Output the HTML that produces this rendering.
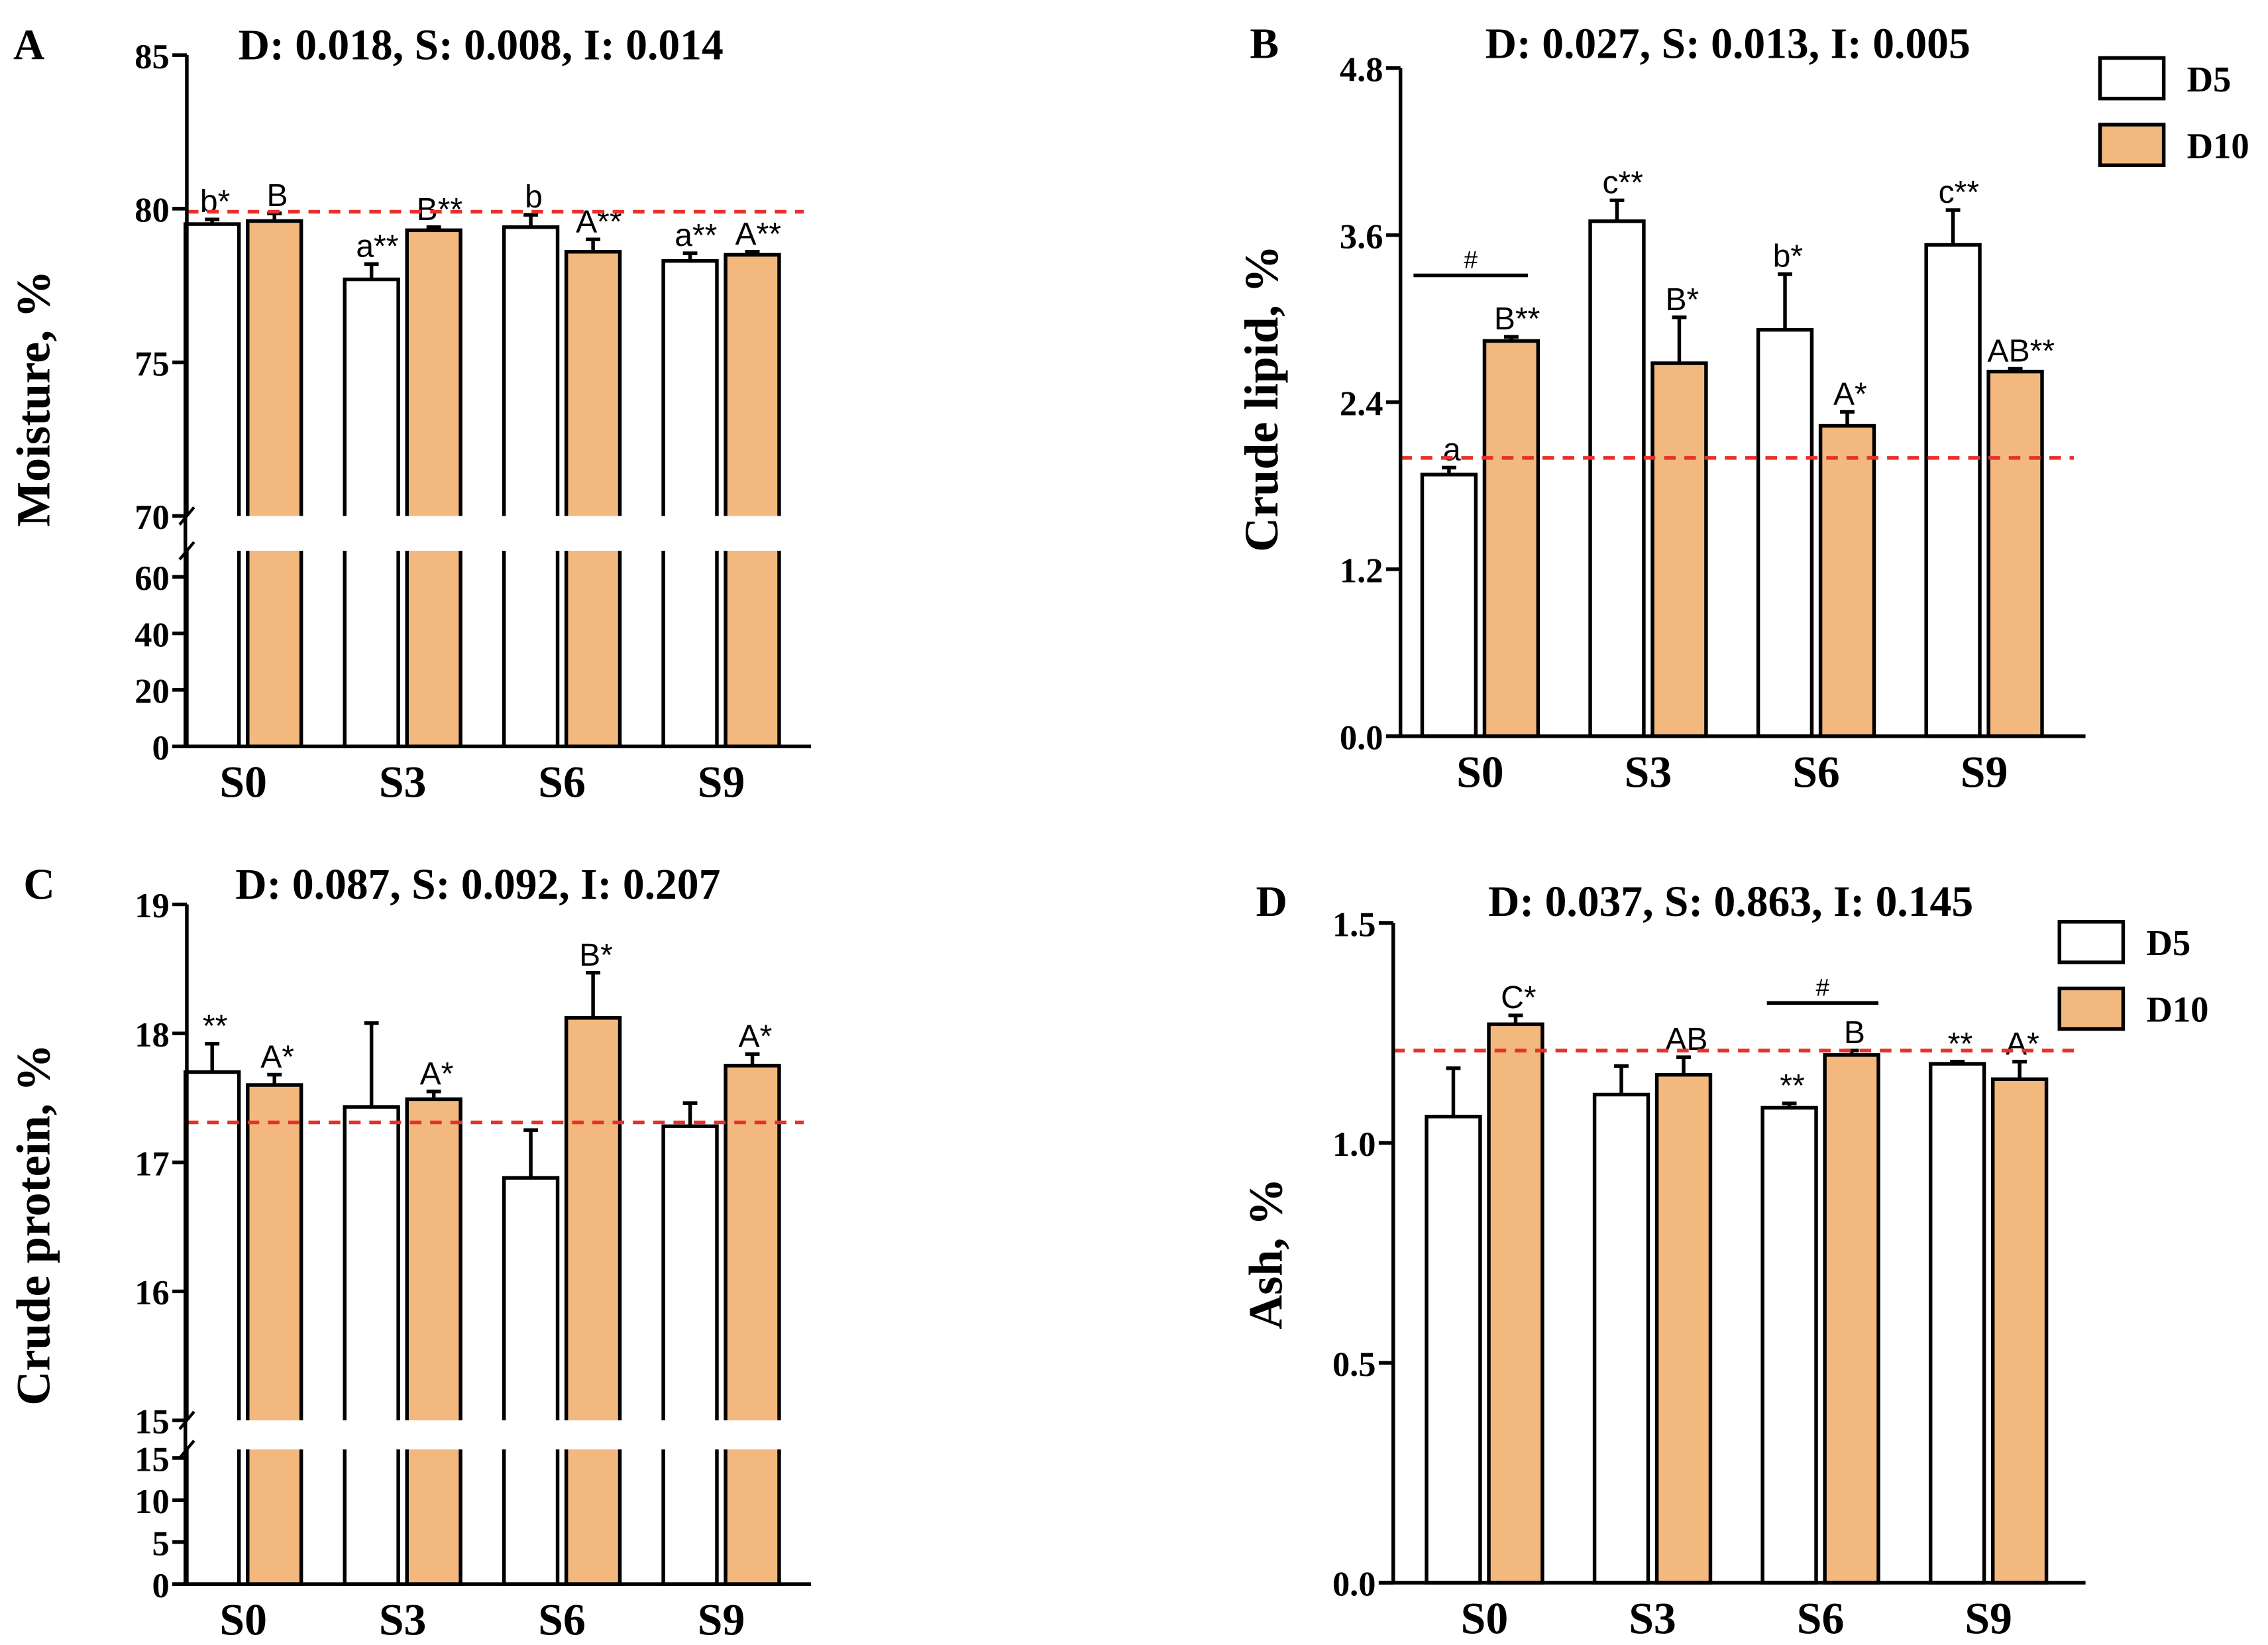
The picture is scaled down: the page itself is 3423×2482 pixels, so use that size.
<!DOCTYPE html>
<html><head><meta charset="utf-8"><style>
html,body{margin:0;padding:0;background:#fff;}
svg{display:block;}
.tick{font-family:"Liberation Serif",serif;font-weight:bold;font-size:24px;}
.ttl{font-family:"Liberation Serif",serif;font-weight:bold;font-size:30px;}
.ylab{font-family:"Liberation Serif",serif;font-weight:bold;font-size:33px;}
.ann{font-family:"Liberation Sans",sans-serif;font-size:22px;}
</style></head><body>
<svg id="fig" width="3423" height="2482" viewBox="0 0 1566 1135" preserveAspectRatio="none" xmlns="http://www.w3.org/2000/svg"></svg>
<script>
const categories = ["S0","S3","S6","S9"];
// Panel A moisture
const aD5 = [79.5, 77.7, 79.4, 78.3];
const aD10 = [79.6, 79.3, 78.6, 78.5];
const aD5err = [0.15, 0.5, 0.4, 0.25];
const aD10err = [0.25, 0.1, 0.4, 0.1];
const aD5lab = ["b*","a**","b","a**"];
const aD10lab = ["B","B**","A**","A**"];
const aRef = 79.9;
const aTicksTop = [70,75,80,85];
const aTicksBot = [0,20,40,60];
// Panel B lipid
const bD5 = [1.88, 3.7, 2.92, 3.53];
const bD10 = [2.84, 2.68, 2.23, 2.62];
const bD5err = [0.05, 0.15, 0.4, 0.25];
const bD10err = [0.03, 0.33, 0.1, 0.02];
const bD5lab = ["a","c**","b*","c**"];
const bD10lab = ["B**","B*","A*","AB**"];
const bRef = 2.0;
const bTicks = [0.0,1.2,2.4,3.6,4.8];
// Panel C protein
const cD5 = [17.7, 17.43, 16.88, 17.28];
const cD10 = [17.6, 17.49, 18.12, 17.75];
const cD5err = [0.22, 0.65, 0.37, 0.18];
const cD10err = [0.08, 0.06, 0.35, 0.09];
const cD5lab = ["**","","",""];
const cD10lab = ["A*","A*","B*","A*"];
const cRef = 17.31;
const cTicksTop = [15,16,17,18,19];
const cTicksBot = [0,5,10,15];
// Panel D ash
const dD5 = [1.06, 1.11, 1.08, 1.18];
const dD10 = [1.27, 1.155, 1.2, 1.145];
const dD5err = [0.11, 0.065, 0.01, 0.005];
const dD10err = [0.02, 0.04, 0.01, 0.04];
const dD5lab = ["","","**","**"];
const dD10lab = ["C*","AB","B","A*"];
const dRef = 1.21;
const dTicks = [0.0,0.5,1.0,1.5];

const NS="http://www.w3.org/2000/svg";
const svg=document.getElementById('fig');
function mk(tag,attrs,parent,txt){const e=document.createElementNS(NS,tag);for(const k in attrs)e.setAttribute(k,attrs[k]);if(txt!==undefined)e.textContent=txt;(parent||svg).appendChild(e);return e;}

function panel(cfg){
  const g=mk('g',{});
  
  
  function y(v){
    if(cfg.broken){
      if(v>=cfg.topMin) return cfg.topY0 - (v-cfg.topMin)*cfg.topK;
      return cfg.base - v*cfg.botK;
    }
    return cfg.base - v*cfg.k;
  }
  const xc=i=>cfg.x0+i*cfg.step;
  const bw=37, gap=6;
  const series=[[cfg.d5,cfg.e5,cfg.l5,'#fff',-1],[cfg.d10,cfg.e10,cfg.l10,'#f2b87e',1]];
  series.forEach((s,si)=>{
    s[0].forEach((v,i)=>{
      const x = s[4]<0 ? xc(i)-gap/2-bw : xc(i)+gap/2;
      const top=y(v);
      const r=mk('rect',{x:x,y:top,width:bw,height:cfg.base-top,fill:s[3],stroke:'#000','stroke-width':2.5},g);
      
      
      const ey=y(v+s[1][i]), cx=x+bw/2;
      mk('line',{x1:cx,y1:top,x2:cx,y2:ey,stroke:'#000','stroke-width':2.5},g);
      mk('line',{x1:cx-5,y1:ey,x2:cx+5,y2:ey,stroke:'#000','stroke-width':2.5},g);
      if(s[2][i]){
        const t=mk('text',{x:cx+ (s[2][i].length>2?4:2),y:ey-5,'text-anchor':'middle',class:'ann'},g,s[2][i]);
        
        
      }
    });
  });
  if(cfg.broken){
    mk('rect',{x:cfg.ax+2,y:cfg.gapTop,width:cfg.xEnd-cfg.ax,height:cfg.gapBot-cfg.gapTop,fill:'#fff'},g);
  }
  const rl=mk('line',{x1:cfg.ax,y1:y(cfg.ref),x2:cfg.refEnd,y2:y(cfg.ref),stroke:'#e8302a','stroke-width':2.5,'stroke-dasharray':'8,6'},g);
  
  
  const ya=mk('g',{},g);
  
  
  if(cfg.broken){
    mk('line',{x1:cfg.ax,y1:y(cfg.ticksTop[cfg.ticksTop.length-1]),x2:cfg.ax,y2:cfg.gapTop,stroke:'#000','stroke-width':2.5},ya);
    mk('line',{x1:cfg.ax,y1:cfg.gapBot,x2:cfg.ax,y2:cfg.base,stroke:'#000','stroke-width':2.5},ya);
    mk('line',{x1:cfg.ax-5,y1:cfg.gapTop+6,x2:cfg.ax+5,y2:cfg.gapTop-6,stroke:'#000','stroke-width':2},ya);
    mk('line',{x1:cfg.ax-5,y1:cfg.gapBot+6,x2:cfg.ax+5,y2:cfg.gapBot-6,stroke:'#000','stroke-width':2},ya);
    cfg.ticksTop.forEach(t=>{mk('line',{x1:cfg.ax-10,y1:y(t),x2:cfg.ax,y2:y(t),stroke:'#000','stroke-width':2.5},ya);mk('text',{x:cfg.ax-12,y:y(t)+9,'text-anchor':'end',class:'tick'},ya,String(t));});
    cfg.ticksBot.forEach(t=>{mk('line',{x1:cfg.ax-10,y1:cfg.base-t*cfg.botK,x2:cfg.ax,y2:cfg.base-t*cfg.botK,stroke:'#000','stroke-width':2.5},ya);mk('text',{x:cfg.ax-12,y:cfg.base-t*cfg.botK+9,'text-anchor':'end',class:'tick'},ya,String(t));});
  } else {
    mk('line',{x1:cfg.ax,y1:y(cfg.ticks[cfg.ticks.length-1]),x2:cfg.ax,y2:cfg.base,stroke:'#000','stroke-width':2.5},ya);
    cfg.ticks.forEach(t=>{mk('line',{x1:cfg.ax-10,y1:y(t),x2:cfg.ax,y2:y(t),stroke:'#000','stroke-width':2.5},ya);mk('text',{x:cfg.ax-12,y:y(t)+9,'text-anchor':'end',class:'tick'},ya,t.toFixed(1));});
  }
  const xa=mk('g',{},g);
  
  
  mk('line',{x1:cfg.ax-10,y1:cfg.base,x2:cfg.xEnd,y2:cfg.base,stroke:'#000','stroke-width':2.5},xa);
  categories.forEach((c,i)=>mk('text',{x:xc(i),y:cfg.base+35,'text-anchor':'middle',class:'tick',style:'font-size:31px'},xa,c));
  const yt=mk('text',{x:0,y:0,'text-anchor':'middle',class:'ylab',transform:`translate(${cfg.ylx},${cfg.yly}) rotate(-90)`},g,cfg.ylab);
  
  
  const tt=mk('text',{x:cfg.tx,y:cfg.ty,'text-anchor':'middle',class:'ttl'},g,cfg.title);
  
  
  const pl=mk('text',{x:cfg.lx,y:cfg.ty,'text-anchor':'middle',class:'ttl'},g,cfg.letter);
  
  
  if(cfg.hash){
    mk('line',{x1:cfg.hash[0],y1:cfg.hash[2],x2:cfg.hash[1],y2:cfg.hash[2],stroke:'#000','stroke-width':2.5},g);
    mk('text',{x:(cfg.hash[0]+cfg.hash[1])/2,y:cfg.hash[2]-5,'text-anchor':'middle',class:'ann',style:'font-size:17px'},g,'#');
  }
  if(cfg.legY){
    const lg=mk('g',{},g);
    
    
    [['D5','#fff'],['D10','#f2b87e']].forEach((e,i)=>{
      const yy=cfg.legY+i*46;
      mk('rect',{x:cfg.legX,y:yy,width:44,height:28,fill:e[1],stroke:'#000','stroke-width':2.5},lg);
      mk('text',{x:cfg.legX+60,y:yy+23,class:'tick',style:'font-size:25px'},lg,e[0]);
    });
  }
}
panel({name:'panel-a-moisture',letter:'A',lx:20,title:'D: 0.018, S: 0.008, I: 0.014',tx:332,ty:41,ax:129,x0:168,step:110,xEnd:560,refEnd:555,
  broken:true,topMin:70,topY0:356,topK:21.2,botK:1.95,base:515,gapTop:356,gapBot:380,ticksTop:aTicksTop,ticksBot:aTicksBot,
  d5:aD5,d10:aD10,e5:aD5err,e10:aD10err,l5:aD5lab,l10:aD10lab,ref:aRef,ylab:'Moisture, %',ylx:34,yly:275});
panel({name:'panel-b-crude-lipid',letter:'B',lx:873,title:'D: 0.027, S: 0.013, I: 0.005',tx:1193,ty:40,ax:967,x0:1022,step:116,xEnd:1440,refEnd:1432,
  k:115.25/1.2,base:508,ticks:bTicks,d5:bD5,d10:bD10,e5:bD5err,e10:bD10err,l5:bD5lab,l10:bD10lab,ref:bRef,ylab:'Crude lipid, %',ylx:882,yly:275,
  hash:[976,1055,190],legX:1450,legY:40});
panel({name:'panel-c-crude-protein',letter:'C',lx:27,title:'D: 0.087, S: 0.092, I: 0.207',tx:330,ty:620,ax:129,x0:168,step:110,xEnd:560,refEnd:555,
  broken:true,topMin:15,topY0:980,topK:89,botK:5.8,base:1093,gapTop:980,gapBot:1000,ticksTop:cTicksTop,ticksBot:cTicksBot,
  d5:cD5,d10:cD10,e5:cD5err,e10:cD10err,l5:cD5lab,l10:cD10lab,ref:cRef,ylab:'Crude protein, %',ylx:34,yly:845});
panel({name:'panel-d-ash',letter:'D',lx:878,title:'D: 0.037, S: 0.863, I: 0.145',tx:1195,ty:632,ax:962,x0:1025,step:116,xEnd:1440,refEnd:1432,
  k:151.7/0.5,base:1092,ticks:dTicks,d5:dD5,d10:dD10,e5:dD5err,e10:dD10err,l5:dD5lab,l10:dD10lab,ref:dRef,ylab:'Ash, %',ylx:885,yly:865,
  hash:[1220,1297,692],legX:1422,legY:636});
</script>
</body></html>
